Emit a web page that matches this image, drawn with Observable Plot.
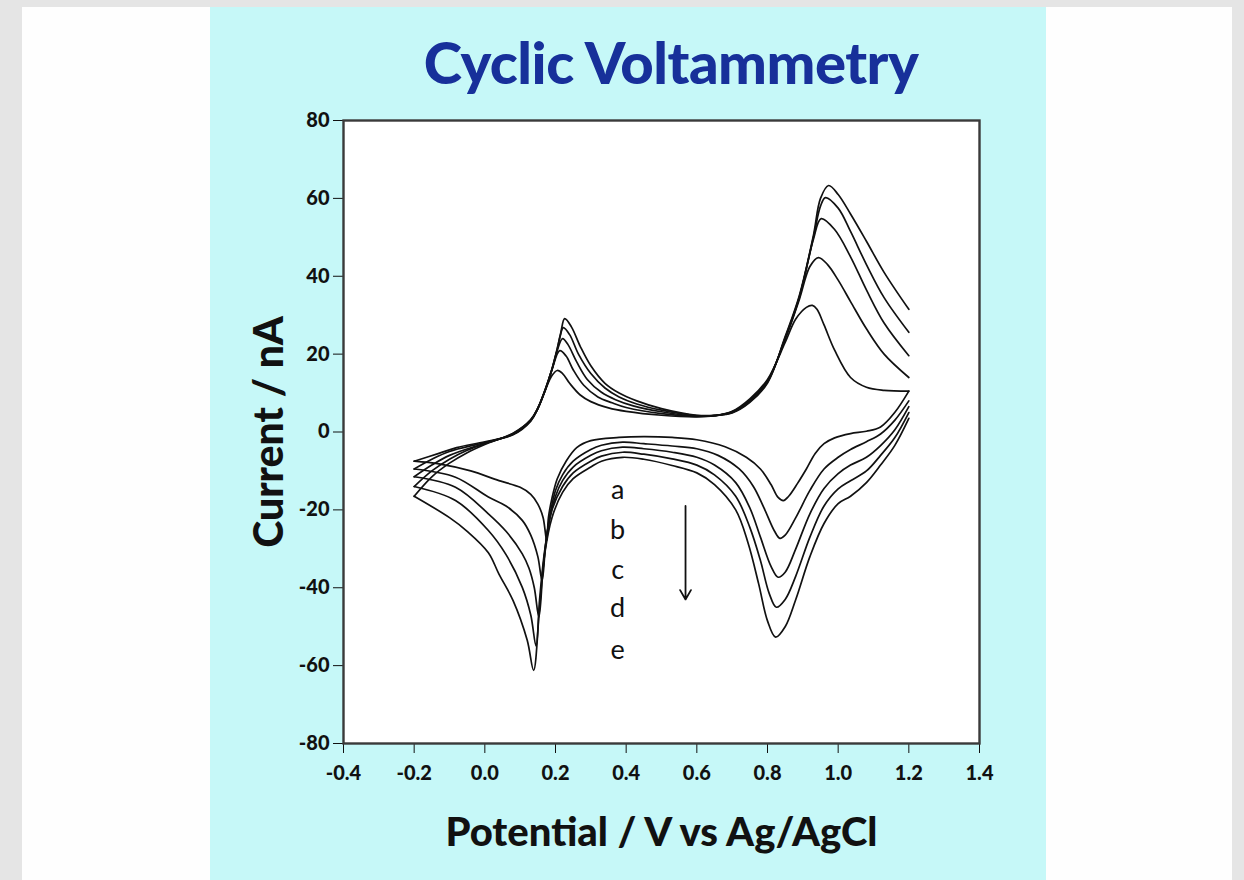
<!DOCTYPE html>
<html><head><meta charset="utf-8">
<script src="https://cdn.jsdelivr.net/npm/d3@7"></script>
<script src="https://cdn.jsdelivr.net/npm/@observablehq/plot@0.6"></script>
<style>
html,body{margin:0;padding:0;}
body{width:1244px;height:880px;background:#e5e5e5;position:relative;overflow:hidden;font-family:Lato,"Open Sans",sans-serif;}
#white{position:absolute;left:22px;top:7px;width:1210px;height:873px;background:#fefefe;}
#panel{position:absolute;left:210px;top:7px;width:836px;height:873px;background:#c6f8f8;}
#title{position:absolute;left:43px;width:836px;top:22px;text-align:center;color:#17309a;font-weight:900;font-size:58px;letter-spacing:-0.5px;line-height:66px;white-space:nowrap;}
#chart{position:absolute;left:0;top:73px;}
</style>
</head><body>
<div id="white"></div>
<div id="panel"><div id="title">Cyclic Voltammetry</div><div id="chart"></div></div>
<script>
// Tick values
const xTicks = [-0.4,-0.2,0.0,0.2,0.4,0.6,0.8,1.0,1.2,1.4];
const yTicks = [-80,-60,-40,-20,0,20,40,60,80];

// Curves a..e : [potential (V), current (nA)], forward sweep and reverse sweep
const fwdA = [[-0.2,-7.5],[-0.13,-5.5],[-0.08,-4],[0,-2.5],[0.08,-0.7],[0.13,2.8],[0.15,6],[0.17,10.5],[0.19,14.5],[0.205,15.8],[0.22,15],[0.24,12.5],[0.27,9.5],[0.3,7.8],[0.35,6.2],[0.4,5.3],[0.5,4.3],[0.6,3.9],[0.65,4.2],[0.7,5.3],[0.75,8.5],[0.8,13.5],[0.85,23],[0.88,29],[0.91,32],[0.927,32.5],[0.94,31.5],[0.96,27.5],[0.99,21],[1.035,14],[1.08,11.5],[1.13,10.7],[1.2,10.5]];
const fwdB = [[-0.2,-9.5],[-0.15,-7],[-0.1,-5],[0,-2.7],[0.08,-0.6],[0.13,3],[0.15,6],[0.17,10.5],[0.19,16],[0.212,20.9],[0.23,19.5],[0.25,16],[0.28,12],[0.32,9],[0.36,7.5],[0.4,6.3],[0.5,4.7],[0.6,4],[0.65,4.2],[0.7,5.2],[0.75,8.2],[0.8,13.2],[0.85,23.8],[0.89,34],[0.92,42.5],[0.944,44.8],[0.97,43],[1.0,39],[1.035,33.5],[1.08,26.5],[1.13,20],[1.2,14]];
const fwdC = [[-0.2,-11.5],[-0.15,-8.5],[-0.1,-6],[0,-2.9],[0.08,-0.5],[0.13,3],[0.15,6],[0.17,10.5],[0.19,16],[0.205,21],[0.22,24],[0.235,22.5],[0.26,18],[0.29,13.5],[0.33,10.2],[0.37,8.3],[0.42,6.7],[0.5,5.2],[0.6,4.1],[0.65,4.2],[0.7,5.1],[0.75,8],[0.8,13],[0.85,24],[0.89,34.5],[0.93,49.5],[0.952,54.8],[0.99,52],[1.035,45],[1.08,36.5],[1.13,28],[1.2,19.6]];
const fwdD = [[-0.2,-14],[-0.15,-10],[-0.1,-7],[-0.05,-4.7],[0,-3],[0.08,-0.4],[0.13,3.1],[0.15,6.1],[0.17,10.6],[0.19,16.1],[0.205,21.2],[0.213,24.5],[0.222,26.8],[0.24,25],[0.265,20],[0.3,15],[0.34,11.3],[0.38,9],[0.43,7.2],[0.5,5.6],[0.6,4.2],[0.65,4.2],[0.7,5],[0.75,7.8],[0.8,12.8],[0.85,24.2],[0.89,34.7],[0.93,50],[0.95,58],[0.964,60.2],[1.0,57.5],[1.035,51.5],[1.08,43],[1.13,34.5],[1.2,25.6]];
const fwdE = [[-0.2,-16.5],[-0.15,-11.5],[-0.1,-8],[-0.05,-5.3],[0,-3.2],[0.08,-0.3],[0.13,3.2],[0.15,6.2],[0.17,10.7],[0.19,16.2],[0.205,21.5],[0.215,25.5],[0.226,29.1],[0.245,27],[0.27,22],[0.3,17],[0.34,12.5],[0.38,10],[0.43,8],[0.5,6],[0.6,4.3],[0.65,4.3],[0.7,4.9],[0.75,7.6],[0.8,12.6],[0.85,24.5],[0.89,35],[0.93,50.5],[0.95,60],[0.973,63.3],[1.0,61],[1.035,56],[1.08,49],[1.13,41],[1.2,31.5]];

const revA = [[1.2,10.5],[1.16,5],[1.12,1.3],[1.08,0.2],[1.035,-0.4],[0.99,-1.5],[0.96,-3],[0.935,-5.5],[0.91,-9.5],[0.885,-13.2],[0.86,-16.5],[0.845,-17.6],[0.83,-16.8],[0.81,-13.5],[0.78,-9.5],[0.74,-6.5],[0.68,-3.8],[0.6,-2],[0.53,-1.4],[0.45,-1.2],[0.38,-1.4],[0.3,-2.2],[0.26,-4],[0.23,-7.5],[0.205,-12],[0.19,-17],[0.18,-22],[0.175,-27.9],[0.165,-22],[0.15,-18.5],[0.13,-16],[0.1,-14.2],[0.04,-12.5],[-0.04,-10],[-0.13,-8.2],[-0.2,-7.5]];
const revB = [[1.2,8],[1.16,3],[1.12,-0.5],[1.08,-2.5],[1.035,-4.5],[1.0,-6.5],[0.96,-9.5],[0.92,-15],[0.88,-22],[0.85,-26.5],[0.835,-27.3],[0.82,-25.5],[0.79,-19.5],[0.76,-14],[0.72,-9.5],[0.66,-6],[0.6,-4.3],[0.53,-3.6],[0.45,-3],[0.39,-2.6],[0.33,-3.4],[0.3,-4.5],[0.25,-7.5],[0.22,-11],[0.2,-15],[0.185,-21],[0.172,-29],[0.162,-38.1],[0.15,-32],[0.13,-26.5],[0.106,-22.7],[0.06,-19],[0.01,-16.7],[-0.083,-11.6],[-0.2,-9.5]];
const revC = [[1.2,6.5],[1.16,0.5],[1.12,-3.5],[1.08,-6.5],[1.035,-8.5],[1.0,-10.7],[0.96,-14.5],[0.92,-21],[0.88,-30],[0.85,-36],[0.83,-37.3],[0.81,-34.5],[0.78,-27],[0.75,-19.5],[0.71,-13],[0.65,-8.5],[0.6,-6.5],[0.53,-5.2],[0.45,-4.3],[0.39,-3.9],[0.33,-4.8],[0.3,-6],[0.25,-9],[0.22,-12.5],[0.2,-16.5],[0.18,-24],[0.165,-35],[0.153,-47.5],[0.14,-40],[0.125,-35],[0.106,-31.3],[0.06,-25.5],[0.01,-21],[-0.083,-14.2],[-0.2,-11.5]];
const revD = [[1.2,5],[1.16,-1.5],[1.12,-6],[1.08,-10],[1.035,-12.5],[1.0,-14.6],[0.96,-19],[0.92,-27],[0.88,-37],[0.85,-43],[0.825,-45],[0.805,-41.5],[0.78,-33],[0.75,-24.5],[0.71,-16.5],[0.65,-11],[0.6,-8.5],[0.53,-6.9],[0.45,-5.7],[0.39,-5.2],[0.33,-6.2],[0.3,-7.5],[0.25,-10.5],[0.22,-14],[0.19,-20],[0.17,-30],[0.155,-43],[0.145,-55],[0.13,-47],[0.106,-39.9],[0.06,-31.5],[0.01,-25.3],[-0.083,-17.6],[-0.2,-14]];
const revE = [[1.2,3.5],[1.16,-3.5],[1.12,-8.5],[1.08,-13],[1.035,-16.5],[1.0,-18.4],[0.96,-23.5],[0.92,-32],[0.88,-43],[0.85,-50],[0.823,-52.7],[0.8,-48.5],[0.775,-39],[0.745,-28.5],[0.71,-20],[0.65,-13.5],[0.6,-10.5],[0.53,-8.6],[0.45,-7],[0.39,-6.5],[0.33,-7.5],[0.3,-9],[0.25,-12],[0.22,-15.5],[0.19,-22],[0.17,-31],[0.155,-45],[0.138,-61.2],[0.12,-53.5],[0.08,-43.3],[0.04,-36.5],[0.01,-31],[-0.05,-25.5],[-0.1,-22],[-0.2,-16.5]];

// Annotation letters and arrow
const labelLetters = ["a","b","c","d","e"];
const labelE = [0.376,0.376,0.376,0.376,0.376];
const labelI = [-15,-25.3,-35.6,-45.4,-56.1];
const arrowE = 0.568;
const arrowFrom = -19;
const arrowTo = -43;

const xLabel = "Potential / V vs Ag/AgCl";
const yLabel = "Current / nA";

const series = {a:[fwdA,revA], b:[fwdB,revB], c:[fwdC,revC], d:[fwdD,revD], e:[fwdE,revE]};
const rows = [];
for (const [k,[f,r]] of Object.entries(series)) {
  f.forEach(([E,I]) => rows.push({key:k+"f", E, I}));
  r.forEach(([E,I]) => rows.push({key:k+"r", E, I}));
}

const plot = Plot.plot({
  width: 836, height: 800,
  marginLeft: 133, marginRight: 67, marginTop: 40, marginBottom: 137,
  style: {background: "transparent", fontFamily: "Lato, 'Open Sans', sans-serif", fontSize: "20px", fontWeight: "900", color: "#111", overflow: "visible"},
  x: {domain: [-0.4, 1.4], ticks: xTicks, tickFormat: d => d.toFixed(1), tickSize: 10, tickPadding: 12, label: null},
  y: {domain: [-80, 80], ticks: yTicks, tickFormat: d => String(d), tickSize: 10, tickPadding: 4, label: null},
  marks: [
    Plot.frame({fill: "white"}),
    Plot.line(rows, {x: "E", y: "I", z: "key", curve: "catmull-rom", stroke: "#111", strokeWidth: 1.7}),
    Plot.text(labelLetters, {x: (d,i) => labelE[i], y: (d,i) => labelI[i], text: d => d, fontSize: 27, fontWeight: "normal", fill: "#111"}),
    Plot.arrow([0], {x1: () => arrowE, y1: () => arrowFrom, x2: () => arrowE, y2: () => arrowTo, stroke: "#111", strokeWidth: 1.8, headLength: 9}),
    Plot.frame({stroke: "#3a3a3a", strokeWidth: 2.4}),
    Plot.text([yLabel], {frameAnchor: "left", dx: -74, rotate: -90, textAnchor: "middle", lineAnchor: "middle", text: d => d, fontSize: 41, fontWeight: "900", fill: "#111", letterSpacing: "1.5px"}),
    Plot.text([xLabel], {frameAnchor: "bottom", dy: 90, textAnchor: "middle", lineAnchor: "middle", text: d => d, fontSize: 40, fontWeight: "900", fill: "#111", letterSpacing: "0.5px"})
  ]
});
document.getElementById("chart").appendChild(plot);
</script>
</body></html>
